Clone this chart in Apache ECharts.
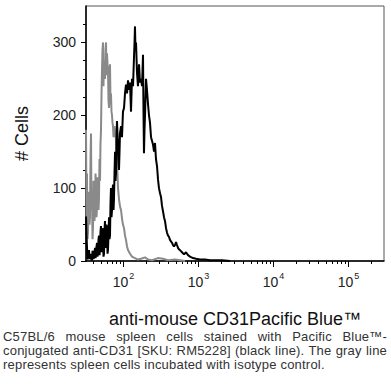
<!DOCTYPE html>
<html>
<head>
<meta charset="utf-8">
<script src="https://cdn.jsdelivr.net/npm/echarts@6/dist/echarts.min.js"></script>
<style>
html,body{margin:0;padding:0;background:#fff;}
#wrap{position:relative;width:391px;height:387px;}
#chart{position:absolute;left:0;top:0;width:391px;height:387px;}
#cap{position:absolute;left:3px;top:330px;width:384px;font-family:"Liberation Sans",Arial,sans-serif;font-size:13px;letter-spacing:0.2px;line-height:14px;color:#333;}
#cap div{white-space:nowrap;}
#cap .j{text-align:justify;text-align-last:justify;}
</style>
</head>
<body>
<div id="wrap">
<div id="chart"></div>
<div id="cap">
<div class="j">C57BL/6 mouse spleen cells stained with Pacific Blue™-</div>
<div class="j">conjugated anti-CD31 [SKU: RM5228] (black line). The gray line</div>
<div>represents spleen cells incubated with isotype control.</div>
</div>
</div>
<script>
// x positions are log10(fluorescence intensity)
var xMajorTicks = [2, 3, 4, 5];
var yMajorTicks = [0, 100, 200, 300];
var yMinorTicks = [25, 50, 75, 125, 150, 175, 225, 250, 275, 325];

var grayLog = [1.500,1.507,1.513,1.520,1.527,1.533,1.540,1.547,1.553,1.560,1.567,1.573,1.580,1.587,1.593,1.600,1.607,1.613,1.620,1.627,1.633,1.640,1.647,1.653,1.660,1.667,1.673,1.680,1.687,1.693,1.700,1.707,1.713,1.720,1.727,1.733,1.740,1.747,1.753,1.760,1.767,1.773,1.780,1.787,1.793,1.800,1.807,1.813,1.820,1.827,1.833,1.840,1.847,1.853,1.860,1.867,1.873,1.880,1.887,1.900,1.913,1.927,1.940,1.953,1.967,1.980,1.993,2.007,2.020,2.033,2.047,2.060,2.087,2.113,2.153,2.193,2.233,2.287,2.327,2.380,2.460,2.527,2.593,2.687,2.820];
var grayCount = [180,60,120,30,40,95,85,50,60,140,175,70,90,30,45,110,95,55,70,120,100,60,75,115,95,70,85,140,110,160,180,230,260,290,300,240,275,260,250,290,300,255,285,270,265,220,210,250,270,215,230,205,200,190,185,170,175,185,180,165,140,100,85,75,70,58,50,45,35,29,20,15,10,6,4,2,3,5,2,1,4,3,1,2,0];

var blackLog = [1.500,1.507,1.513,1.520,1.527,1.533,1.540,1.547,1.553,1.560,1.567,1.573,1.580,1.587,1.593,1.600,1.607,1.613,1.620,1.627,1.633,1.640,1.647,1.653,1.660,1.667,1.673,1.680,1.687,1.693,1.700,1.707,1.713,1.720,1.727,1.733,1.740,1.747,1.753,1.760,1.767,1.773,1.780,1.787,1.793,1.800,1.807,1.813,1.820,1.827,1.833,1.840,1.847,1.853,1.860,1.867,1.873,1.880,1.887,1.893,1.900,1.907,1.913,1.920,1.927,1.933,1.940,1.947,1.953,1.967,1.980,1.993,2.007,2.020,2.033,2.047,2.060,2.073,2.087,2.100,2.113,2.127,2.140,2.147,2.153,2.160,2.167,2.180,2.193,2.207,2.220,2.233,2.247,2.260,2.267,2.273,2.280,2.287,2.300,2.313,2.327,2.340,2.353,2.367,2.380,2.393,2.407,2.420,2.433,2.447,2.460,2.473,2.487,2.500,2.513,2.527,2.540,2.553,2.567,2.580,2.593,2.607,2.620,2.633,2.647,2.660,2.673,2.687,2.700,2.713,2.727,2.740,2.753,2.780,2.807,2.833,2.860,2.887,2.927,2.967,3.020,3.087,3.153,3.220,3.313,3.420];
var blackCount = [61,35,20,2,5,12,15,4,3,8,10,1,2,14,12,3,5,10,18,4,8,20,25,6,10,30,35,8,15,40,48,12,20,45,40,6,10,42,55,18,25,50,45,10,15,35,60,30,35,80,100,60,70,95,105,70,85,120,150,110,120,170,192,175,160,140,125,150,175,185,170,205,210,230,242,230,248,235,245,205,250,240,280,300,322,290,300,258,240,270,245,250,240,283,200,148,180,200,250,235,215,200,190,170,165,160,150,162,140,130,112,100,93,88,76,68,60,55,45,39,35,33,29,27,25,22,20,22,26,22,18,16,15,12,9,12,8,6,4,3,2,2,1,1,1,0];

function pairs(xs, ys) {
  var out = [];
  for (var i = 0; i < xs.length; i++) out.push([xs[i], ys[i]]);
  return out;
}
var xMinorTicks = [];
[1, 2, 3, 4, 5].forEach(function (d) {
  for (var k = 2; k <= 9; k++) {
    var v = d + Math.log10(k);
    if (v > 1.5 && v < 5.47) xMinorTicks.push(v);
  }
});

var FONT = '"Liberation Sans", Arial, sans-serif';
var chart = echarts.init(document.getElementById('chart'), null, {renderer: 'svg'});
chart.setOption({
  animation: false,
  backgroundColor: '#fff',
  grid: {left: 86, right: 7, top: 6, bottom: 126, show: true, borderColor: '#555', borderWidth: 1, containLabel: false},
  xAxis: [{
    type: 'value', min: 1.5, max: 5.473, position: 'bottom',
    axisLine: {lineStyle: {color: '#000', width: 1.5}},
    axisTick: {customValues: xMajorTicks, length: 6, lineStyle: {color: '#000', width: 1}},
    axisLabel: {
      customValues: xMajorTicks, margin: 9, color: '#222', fontFamily: FONT,
      formatter: function (v) { return '{b|10}{s|' + v + '}'; },
      rich: {
        b: {fontSize: 14, lineHeight: 18, fontFamily: FONT, color: '#222', padding: [6, 0, 0, 0]},
        s: {fontSize: 9, lineHeight: 18, fontFamily: FONT, color: '#222', padding: [0, 0, 6, 1]}
      }
    },
    splitLine: {show: false},
    name: 'anti-mouse CD31Pacific Blue™', nameLocation: 'middle', nameGap: 49,
    nameTextStyle: {fontSize: 18, lineHeight: 18, color: '#111', fontFamily: FONT}
  }, {
    type: 'value', min: 1.5, max: 5.473, position: 'bottom',
    axisLine: {show: false},
    axisTick: {customValues: xMinorTicks, length: 3, lineStyle: {color: '#000', width: 1}},
    axisLabel: {show: false},
    splitLine: {show: false}
  }],
  yAxis: [{
    type: 'value', min: 0, max: 350,
    axisLine: {show: true, lineStyle: {color: '#000', width: 1.5}},
    axisTick: {show: true, customValues: yMajorTicks, length: 5, lineStyle: {color: '#000', width: 1}},
    axisLabel: {customValues: yMajorTicks, fontSize: 14, color: '#222', margin: 10, fontFamily: FONT},
    splitLine: {show: false},
    name: '# Cells', nameLocation: 'middle', nameGap: 55, nameRotate: 90,
    nameTextStyle: {fontSize: 18, color: '#111', fontFamily: FONT}
  }, {
    type: 'value', min: 0, max: 350, position: 'left',
    axisLine: {show: false},
    axisTick: {show: true, customValues: yMinorTicks, length: 3, lineStyle: {color: '#000', width: 1}},
    axisLabel: {show: false},
    splitLine: {show: false}
  }],
  series: [{
    name: 'Isotype control', type: 'line', xAxisIndex: 0, yAxisIndex: 0,
    data: pairs(grayLog, grayCount), showSymbol: false, symbol: 'none',
    lineStyle: {color: '#8a8a8a', width: 2}, z: 2
  }, {
    name: 'anti-CD31', type: 'line', xAxisIndex: 0, yAxisIndex: 0,
    data: pairs(blackLog, blackCount), showSymbol: false, symbol: 'none',
    lineStyle: {color: '#000', width: 2}, z: 3
  }]
});
</script>
</body>
</html>
